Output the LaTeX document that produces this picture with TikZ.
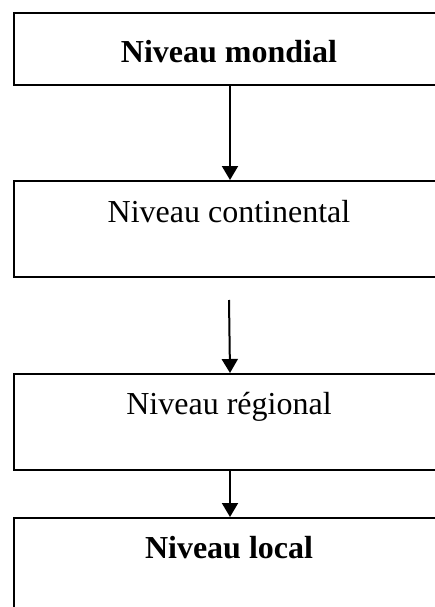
\documentclass[tikz,border=0pt]{standalone}
\usepackage{fontspec}
\setmainfont{Liberation Serif}
\usetikzlibrary{arrows.meta}
\begin{document}
\begin{tikzpicture}[x=1pt,y=-1pt,
  levelbox/.style={draw, line width=2pt, inner sep=0pt, anchor=north west, minimum width=432pt},
  leveltext/.style={anchor=base, inner sep=0pt, font=\fontsize{32}{38}\selectfont},
  flow/.style={line width=2pt, -{Triangle[length=14pt,width=16pt]}}]
\useasboundingbox (0,0) rectangle (435,607);
\clip (0,0) rectangle (435,607);
\node[levelbox, minimum height=72pt] (b1) at (13,12) {};
\node[levelbox, minimum height=96pt] (b2) at (13,180) {};
\node[levelbox, minimum height=96pt] (b3) at (13,373) {};
\node[levelbox, minimum height=96pt] (b4) at (13,517) {};
\node[leveltext] (t1) at (229,63) {\textbf{Niveau mondial}};
\node[leveltext] (t2) at (229,222) {Niveau continental};
\node[leveltext] (t3) at (229,414) {Niveau régional};
\node[leveltext] (t4) at (229,558) {\textbf{Niveau local}};
\coordinate (s2) at (229,300);
\draw[flow] (b1.south) -- (b2.north);
\draw[flow] (s2) -- (b3.north);
\draw[flow] (b3.south) -- (b4.north);
\end{tikzpicture}
\end{document}
